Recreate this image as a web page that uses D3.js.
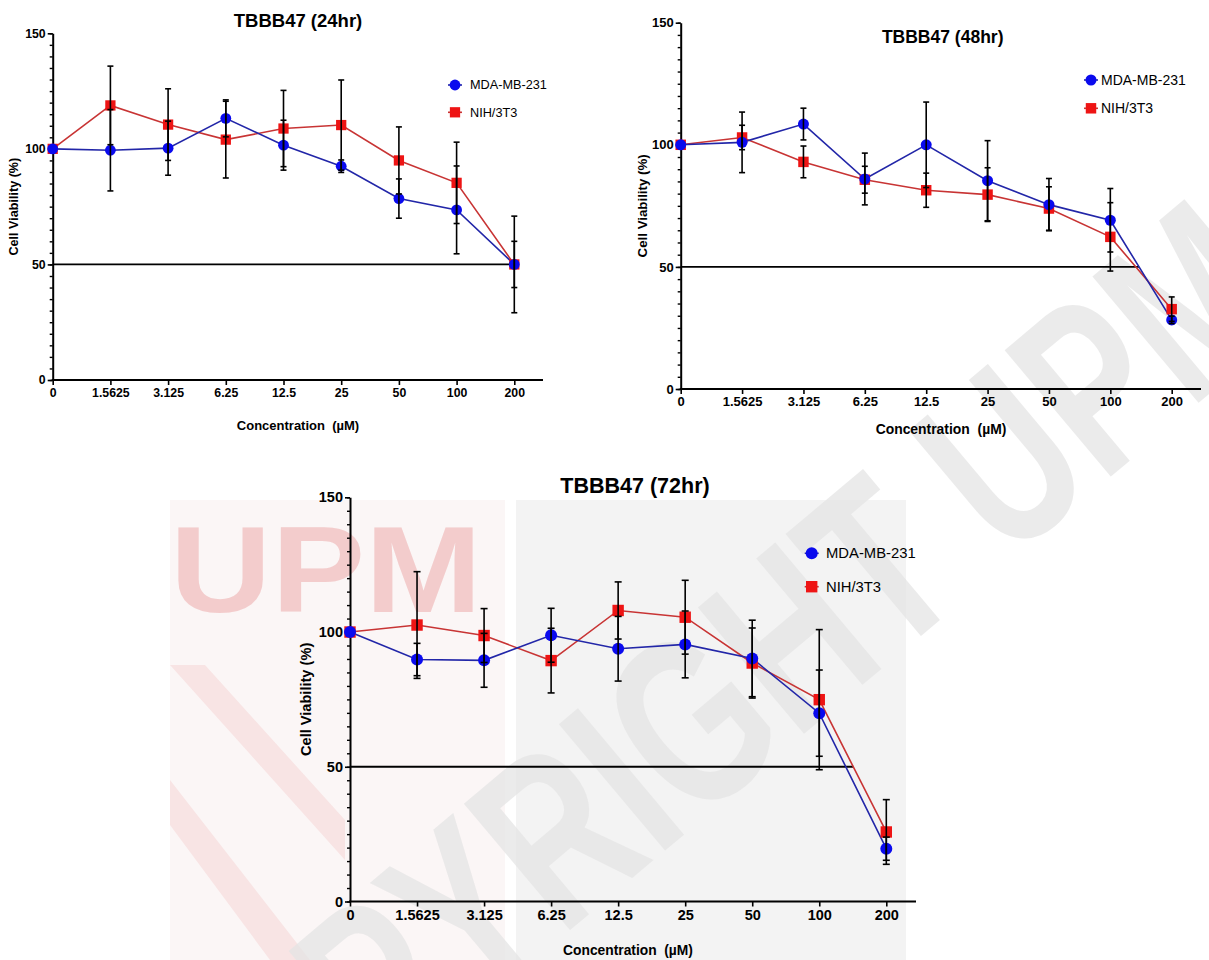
<!DOCTYPE html>
<html>
<head>
<meta charset="utf-8">
<script src="https://cdn.jsdelivr.net/npm/d3@7"></script>
<style>
  body { margin: 0; background: #fff; }
  svg { display: block; }
</style>
</head>
<body>
<script>
// concentrations (uM) - categorical x axis
var concentrations = ["0", "1.5625", "3.125", "6.25", "12.5", "25", "50", "100", "200"];
var yTicks = [0, 50, 100, 150];

// 24 hr
var mda24 = [100, 99.4, 100.3, 113.2, 101.6, 92.5, 78.5, 73.6, 50];
var mda24sd = [0, 17.6, 11.7, 8, 10.8, 2.7, 8.5, 19, 10];
var nih24 = [100, 118.8, 110.5, 104, 108.8, 110.3, 95, 85.3, 50];
var nih24sd = [0, 17, 15.5, 16.6, 16.5, 19.5, 14.5, 17.6, 20.9];

// 48 hr
var mda48 = [100, 101, 108.5, 86, 100, 85.3, 75.5, 69.1, 28.3];
var mda48sd = [0, 12.4, 6.5, 10.6, 17.5, 16.4, 10.7, 13, 1.5];
var nih48 = [100, 103, 93, 85.7, 81.4, 79.6, 73.9, 62.3, 32.7];
var nih48sd = [0, 5, 6.5, 5.5, 7, 11, 8.9, 14, 5];

// 72 hr
var mda72 = [100, 89.8, 89.5, 98.8, 93.8, 95.4, 90.2, 69.9, 19.6];
var mda72sd = [0, 6, 10, 10, 12, 12.4, 14.2, 16, 4.3];
var nih72 = [100, 102.6, 98.7, 89.4, 108, 105.5, 88.5, 74.9, 25.8];
var nih72sd = [0, 19.8, 10, 12, 10.6, 13.7, 13, 26, 12];

var seriesNames = ["MDA-MB-231", "NIH/3T3"];

var w = 1209, h = 960;
var font = "'Liberation Sans', Arial, Helvetica, sans-serif";
var blueFill = "#0a0aee", blueLine = "#2226a8";
var redFill = "#ee1414", redLine = "#c83434";

var svg = d3.select("body").append("svg")
    .attr("width", w)
    .attr("height", h)
    .style("background-color", "white");

// ---- watermark (background) ----
var wm = svg.append("g").attr("class", "watermark");
wm.append("rect").attr("x", 170).attr("y", 500).attr("width", 335).attr("height", 460).attr("fill", "#fbf6f6");
wm.append("rect").attr("x", 516).attr("y", 500).attr("width", 390).attr("height", 460).attr("fill", "#f3f3f3");
wm.append("polygon")
    .attr("points", "170,665 205,665 345,820 345,860")
    .attr("fill", "#f8e4e4");
wm.append("polygon")
    .attr("points", "170,780 170,825 270,960 310,960")
    .attr("fill", "#f8e4e4");
wm.append("text")
    .attr("x", 170).attr("y", 612)
    .attr("textLength", 312).attr("lengthAdjust", "spacingAndGlyphs")
    .style("font-family", font).style("font-weight", "bold").style("font-size", "122px")
    .style("fill", "#f3cccc")
    .text("UPM");
wm.append("text")
    .attr("transform", "translate(690,720)rotate(-40)")
    .attr("text-anchor", "middle")
    .attr("dy", "0.35em")
    .attr("textLength", 1450).attr("lengthAdjust", "spacingAndGlyphs")
    .style("font-family", font).style("font-weight", "bold").style("font-size", "240px")
    .style("fill", "#e4e4e4").style("fill-opacity", 0.75)
    .text("COPYRIGHT UPM");

var panels = [
  { title: "TBBB47 (24hr)", mda: mda24, mdaSd: mda24sd, nih: nih24, nihSd: nih24sd,
    x0: 52.7, x1: 514.3, xEnd: 543, yTop: 33.3, yBot: 380,
    titleX: 298, titleY: 20.7, titleSize: 18.5, tickSize: 12.3, yLabSize: 12.6, xLabSize: 13,
    yLabX: 14, xLabX: 298, xLabY: 425, legX: 455, legTextX: 470, legY: [85, 112.3], legSize: 12.7, r: 5.4, cap: 3 },
  { title: "TBBB47 (48hr)", mda: mda48, mdaSd: mda48sd, nih: nih48, nihSd: nih48sd,
    x0: 680.7, x1: 1171.7, xEnd: 1201, yTop: 22.7, yBot: 389,
    titleX: 942.7, titleY: 36.7, titleSize: 17.5, tickSize: 13, yLabSize: 13.3, xLabSize: 13.9,
    yLabX: 642, xLabX: 941, xLabY: 429, legX: 1091, legTextX: 1101, legY: [80, 108.3], legSize: 14, r: 5.5, cap: 3 },
  { title: "TBBB47 (72hr)", mda: mda72, mdaSd: mda72sd, nih: nih72, nihSd: nih72sd,
    x0: 350, x1: 886.3, xEnd: 916, yTop: 497.3, yBot: 901.5,
    titleX: 635, titleY: 485, titleSize: 21.5, tickSize: 14.5, yLabSize: 14.6, xLabSize: 13.8,
    yLabX: 306, xLabX: 628, xLabY: 950, legX: 811.7, legTextX: 826, legY: [553.3, 586.7], legSize: 14.8, r: 6, cap: 3.5 }
];

// where a series line first drops to 50 % (fractional category index)
function crossAt50(vals) {
  for (var i = 1; i < vals.length; i++) {
    if (vals[i] <= 50) return i - 1 + (vals[i - 1] - 50) / (vals[i - 1] - vals[i]);
  }
  return vals.length - 1;
}

panels.forEach(function(p) {
  var g = svg.append("g");
  var x = d3.scalePoint().domain(concentrations).range([p.x0, p.x1]);
  var y = d3.scaleLinear().domain([0, 150]).range([p.yBot, p.yTop]);
  var idx = function(i) { return x(concentrations[0]) + i * x.step(); };

  // 50% reference line
  var refEnd = Math.max(crossAt50(p.mda), crossAt50(p.nih));
  g.append("line")
      .attr("x1", p.x0).attr("x2", idx(refEnd))
      .attr("y1", y(50)).attr("y2", y(50))
      .attr("stroke", "black").attr("stroke-width", 1.8);

  // y axis: minor ticks every 5, major at 0/50/100/150
  var yMinor = g.append("g").attr("transform", "translate(" + p.x0 + ",0)")
      .call(d3.axisLeft(y).tickValues(d3.range(0, 151, 5)).tickSize(3).tickFormat(""));
  yMinor.select(".domain").remove();
  yMinor.selectAll("line").attr("stroke-width", 1.4);

  var yAxis = g.append("g").attr("transform", "translate(" + p.x0 + ",0)")
      .call(d3.axisLeft(y).tickValues(yTicks).tickSize(5).tickSizeOuter(0).tickPadding(2));
  yAxis.select(".domain").attr("stroke-width", 2);
  yAxis.selectAll("line").attr("stroke-width", 1.6);
  yAxis.selectAll("text")
      .style("font-family", font).style("font-weight", "bold").style("font-size", p.tickSize + "px")
      .attr("fill", "black");

  // x axis
  var xAxis = g.append("g").attr("transform", "translate(0," + p.yBot + ")")
      .call(d3.axisBottom(x).tickSize(5).tickPadding(3));
  xAxis.select(".domain").remove();
  xAxis.append("line")
      .attr("x1", p.x0 - 1).attr("x2", p.xEnd)
      .attr("stroke", "black").attr("stroke-width", 2);
  xAxis.selectAll(".tick line").attr("stroke-width", 1.6);
  xAxis.selectAll("text")
      .style("font-family", font).style("font-weight", "bold").style("font-size", p.tickSize + "px")
      .attr("fill", "black");

  // titles and labels
  g.append("text")
      .attr("x", p.titleX).attr("y", p.titleY).attr("dy", "0.35em")
      .attr("text-anchor", "middle")
      .style("font-family", font).style("font-weight", "bold").style("font-size", p.titleSize + "px")
      .text(p.title);
  g.append("text")
      .attr("x", p.xLabX).attr("y", p.xLabY).attr("dy", "0.35em")
      .attr("text-anchor", "middle")
      .style("font-family", font).style("font-weight", "bold").style("font-size", p.xLabSize + "px")
      .style("white-space", "pre")
      .text("Concentration  (\u00b5M)");
  g.append("text")
      .attr("transform", "translate(" + p.yLabX + "," + ((p.yTop + p.yBot) / 2) + ")rotate(-90)")
      .attr("dy", "0.35em")
      .attr("text-anchor", "middle")
      .style("font-family", font).style("font-weight", "bold").style("font-size", p.yLabSize + "px")
      .text("Cell Viability (%)");

  // series lines
  var line = d3.line().x(function(d, i) { return x(concentrations[i]); }).y(function(d) { return y(d); });
  g.append("path").datum(p.nih).attr("d", line)
      .attr("fill", "none").attr("stroke", redLine).attr("stroke-width", 1.6);
  g.append("path").datum(p.mda).attr("d", line)
      .attr("fill", "none").attr("stroke", blueLine).attr("stroke-width", 1.6);

  // markers
  var s = p.r * 1.9;
  g.selectAll(".sq").data(p.nih).enter().append("rect")
      .attr("x", function(d, i) { return x(concentrations[i]) - s / 2; })
      .attr("y", function(d) { return y(d) - s / 2; })
      .attr("width", s).attr("height", s)
      .attr("fill", redFill);
  g.selectAll(".ci").data(p.mda).enter().append("circle")
      .attr("cx", function(d, i) { return x(concentrations[i]); })
      .attr("cy", function(d) { return y(d); })
      .attr("r", p.r)
      .attr("fill", blueFill);

  // error bars (mean +/- SD)
  [[p.nih, p.nihSd], [p.mda, p.mdaSd]].forEach(function(pair) {
    pair[0].forEach(function(v, i) {
      var sd = pair[1][i];
      if (!sd) return;
      var cx = x(concentrations[i]);
      var eb = g.append("g").attr("stroke", "black").attr("stroke-width", 1.6);
      eb.append("line").attr("x1", cx).attr("x2", cx).attr("y1", y(v - sd)).attr("y2", y(v + sd));
      eb.append("line").attr("x1", cx - p.cap).attr("x2", cx + p.cap).attr("y1", y(v + sd)).attr("y2", y(v + sd));
      eb.append("line").attr("x1", cx - p.cap).attr("x2", cx + p.cap).attr("y1", y(v - sd)).attr("y2", y(v - sd));
    });
  });

  // legend
  var leg = [[blueFill, blueLine, "circle"], [redFill, redLine, "square"]];
  leg.forEach(function(l, k) {
    var ly = p.legY[k];
    g.append("line")
        .attr("x1", p.legX - 7).attr("x2", p.legX + 7).attr("y1", ly).attr("y2", ly)
        .attr("stroke", l[1]).attr("stroke-width", 1.6);
    if (l[2] === "circle") {
      g.append("circle").attr("cx", p.legX).attr("cy", ly).attr("r", p.r).attr("fill", l[0]);
    } else {
      g.append("rect").attr("x", p.legX - s / 2).attr("y", ly - s / 2).attr("width", s).attr("height", s).attr("fill", l[0]);
    }
    g.append("text")
        .attr("x", p.legTextX).attr("y", ly).attr("dy", "0.35em")
        .style("font-family", font).style("font-size", p.legSize + "px")
        .text(seriesNames[k]);
  });
});
</script>
</body>
</html>
